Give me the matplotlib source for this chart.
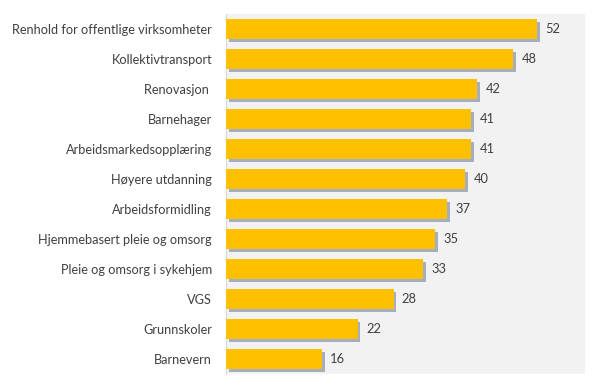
import matplotlib.pyplot as plt
import matplotlib.patheffects as pe

categories = ["Renhold for offentlige virksomheter", "Kollektivtransport", "Renovasjon ",
              "Barnehager", "Arbeidsmarkedsopplæring", "Høyere utdanning",
              "Arbeidsformidling", "Hjemmebasert pleie og omsorg",
              "Pleie og omsorg i sykehjem", "VGS", "Grunnskoler", "Barnevern"]
values = [52, 48, 42, 41, 41, 40, 37, 35, 33, 28, 22, 16]

plt.rcParams['font.family'] = ['Lato', 'DejaVu Sans']

fig = plt.figure(figsize=(6, 3.9), dpi=100)
ax = fig.add_axes([226/600, 1 - 374/390, 359/600, 360/390])
ax.set_facecolor('#f2f2f2')

ypos = list(range(len(categories)))[::-1]
bars = ax.barh(ypos, values, height=0.67, color='#ffc000', zorder=3)
for b in bars:
    b.set_path_effects([pe.SimplePatchShadow(offset=(2, -2), shadow_rgbFace='#5a6a90', alpha=0.5),
                        pe.Normal()])

for y, v in zip(ypos, values):
    ax.annotate(str(v), (v, y), xytext=(6, 0), textcoords='offset points',
                va='center', ha='left', fontsize=9.3, color='#404040')

ax.set_xlim(0, 60)
ax.set_ylim(-0.5, len(categories) - 0.5)
ax.set_yticks(ypos)
ax.set_yticklabels(categories, fontsize=9.2, color='#404040')
ax.set_xticks([])
ax.tick_params(axis='y', length=0, pad=10)
for s in ['top', 'right', 'bottom']:
    ax.spines[s].set_visible(False)
ax.spines['left'].set_color('#d9d9d9')

fig.savefig('out.png', dpi=100)
